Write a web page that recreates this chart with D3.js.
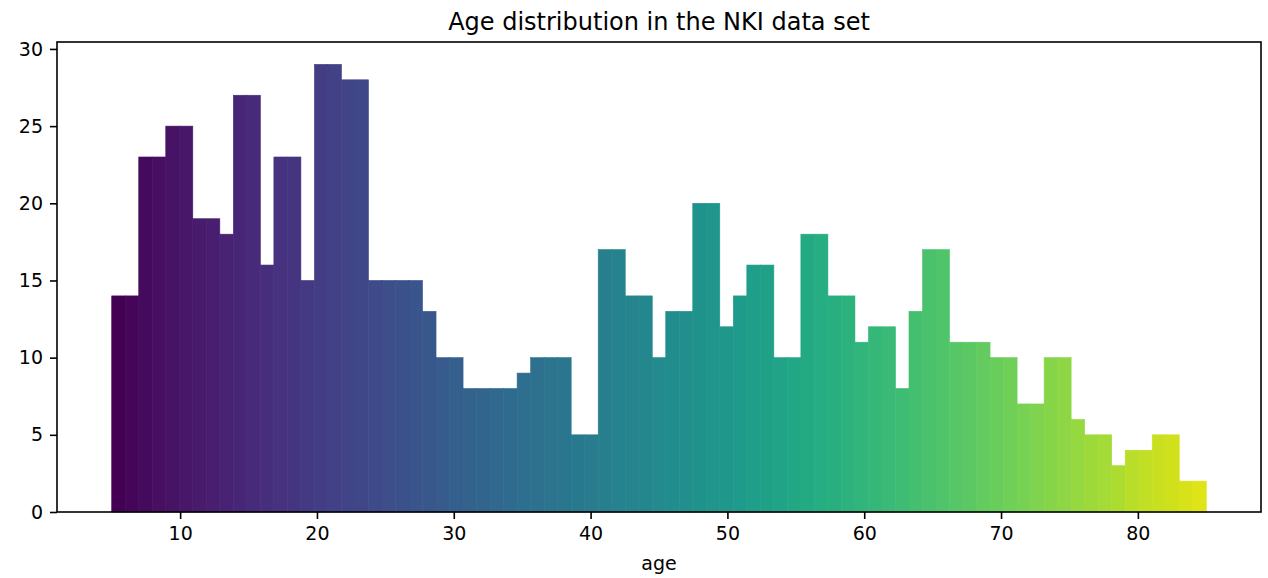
<!DOCTYPE html>
<html>
<head>
<meta charset="utf-8">
<script src="https://cdn.jsdelivr.net/npm/d3@7"></script>
<style>
  body { margin: 0; background: #fff; }
  text { font-family: "DejaVu Sans", sans-serif; fill: #000; }
  .axis path, .axis line { stroke: #000; }
</style>
</head>
<body>
<script>
// histogram data: one bin per year of age, 5..85 (81 bins)
var ageMin = 5,
    ageMax = 85;
var counts = [14, 14, 23, 23, 25, 25, 19, 19, 18, 27,
              27, 16, 23, 23, 15, 29, 29, 28, 28, 15,
              15, 15, 15, 13, 10, 10, 8, 8, 8, 8,
              9, 10, 10, 10, 5, 5, 17, 17, 14, 14,
              10, 13, 13, 20, 20, 12, 14, 16, 16, 10,
              10, 18, 18, 14, 14, 11, 12, 12, 8, 13,
              17, 17, 11, 11, 11, 10, 10, 7, 7, 10,
              10, 6, 5, 5, 3, 4, 4, 5, 5, 2, 2];
var xTicks = [10, 20, 30, 40, 50, 60, 70, 80];
var yTicks = [0, 5, 10, 15, 20, 25, 30];
var title = "Age distribution in the NKI data set";
var xLabel = "age";

// margins round the axes box
var margin = {top: 42, right: 7, bottom: 66, left: 57},
    width = 1268 - margin.left - margin.right,
    height = 578 - margin.top - margin.bottom;

var svg = d3.select("body").append("svg")
    .attr("width", width + margin.left + margin.right)
    .attr("height", height + margin.top + margin.bottom)
    .append("g")
    .attr("transform", "translate(" + margin.left + "," + margin.top + ")");

// matplotlib style 5% padding on x, max*1.05 on y
var pad = (ageMax - ageMin) * 0.05;
var x = d3.scaleLinear()
    .domain([ageMin - pad, ageMax + pad])
    .range([0, width]);
var y = d3.scaleLinear()
    .domain([0, d3.max(counts) * 1.05])
    .range([height, 0]);

var binWidth = (ageMax - ageMin) / counts.length;
var bins = counts.map(function(c, i) {
    return {x0: ageMin + i * binWidth, x1: ageMin + (i + 1) * binWidth, n: c, i: i};
});

// colour each bin along the viridis map (top end is a bit short of full yellow)
function binColor(d) {
    return d3.interpolateViridis(0.95 * d.i / (counts.length - 1));
}

svg.append("g").attr("class", "bars")
    .selectAll("rect")
    .data(bins)
    .enter()
    .append("rect")
    .attr("x", function(d) { return x(d.x0); })
    .attr("width", function(d) { return x(d.x1) - x(d.x0); })
    .attr("y", function(d) { return y(d.n); })
    .attr("height", function(d) { return y(0) - y(d.n); })
    .style("fill", binColor)
    .style("stroke", binColor)
    .style("stroke-width", 0.6);

// axes
var xAxis = svg.append("g")
    .attr("class", "axis")
    .attr("transform", "translate(0," + height + ")")
    .call(d3.axisBottom(x).tickValues(xTicks).tickSize(7).tickPadding(8));
var yAxis = svg.append("g")
    .attr("class", "axis")
    .call(d3.axisLeft(y).tickValues(yTicks).tickSize(7).tickPadding(7));

[xAxis, yAxis].forEach(function(a) {
    a.select(".domain").remove();
    a.selectAll(".tick line").attr("stroke-width", 1.6);
    a.selectAll(".tick text")
        .style("font-size", "19px")
        .attr("fill", "#000");
});

// frame (all four spines)
svg.append("rect")
    .attr("x", 0)
    .attr("y", 0)
    .attr("width", width)
    .attr("height", height)
    .style("fill", "none")
    .style("stroke", "#000")
    .style("stroke-width", 1.6);

svg.append("text")
    .attr("x", width / 2)
    .attr("y", -12)
    .attr("text-anchor", "middle")
    .style("font-size", "24px")
    .text(title);

svg.append("text")
    .attr("x", width / 2)
    .attr("y", height + 58)
    .attr("text-anchor", "middle")
    .style("font-size", "19px")
    .text(xLabel);
</script>
</body>
</html>
